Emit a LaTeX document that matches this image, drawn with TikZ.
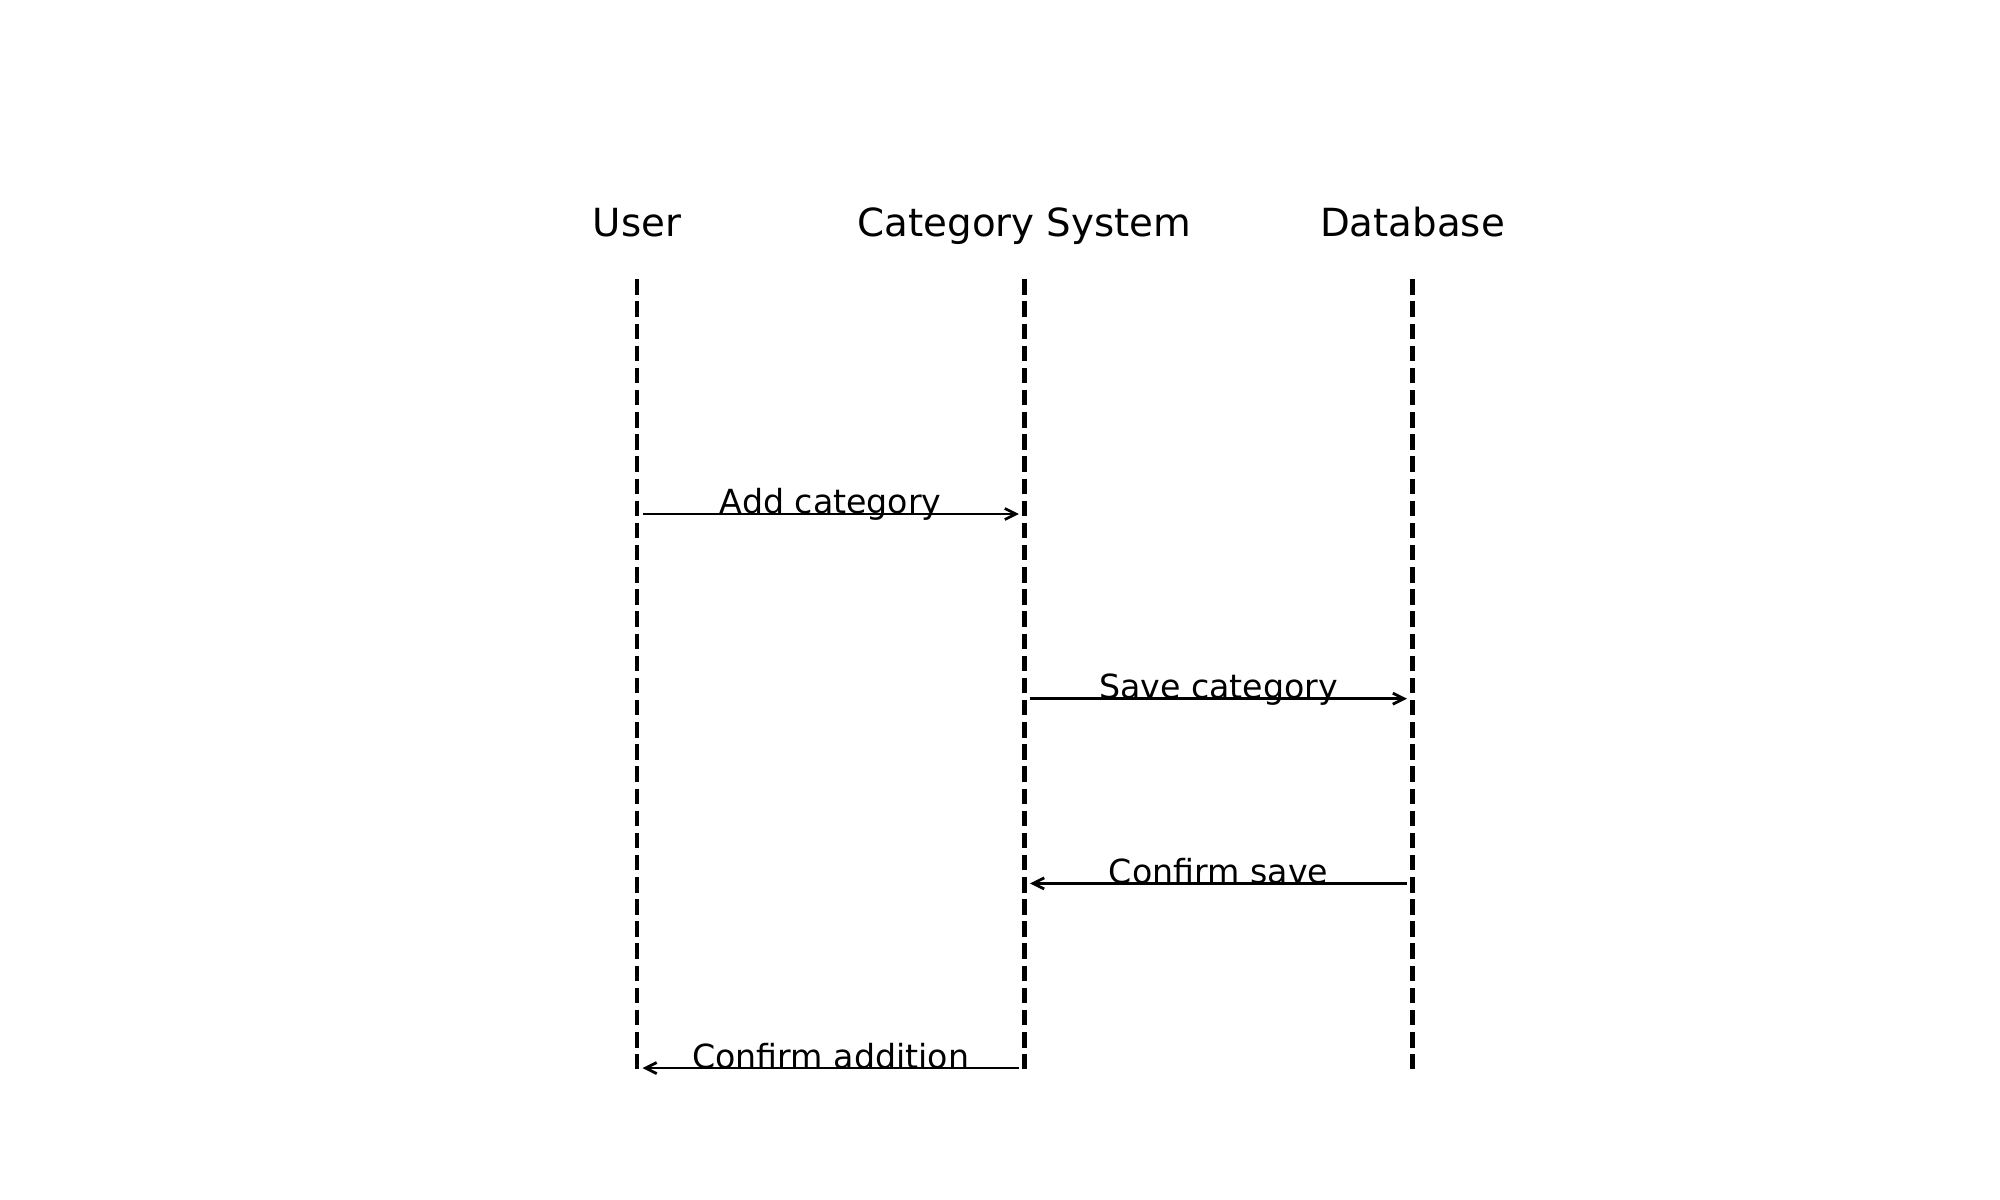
\documentclass[tikz,border=0pt]{standalone}
\usepackage{fontspec}
\setmainfont{DejaVu Sans}
\usetikzlibrary{arrows.meta,calc}
\tikzset{
  lifeline/.style={line width=1.5pt, dash pattern=on 5.6pt off 2.4pt},
  msg/.style={line width=1pt, -{Straight Barb[length=4pt,width=4pt]}},
  actor/.style={anchor=base, inner sep=0pt, font=\fontsize{14pt}{16pt}\selectfont},
  msglabel/.style={anchor=base, inner sep=0pt, font=\fontsize{12pt}{14pt}\selectfont},
}
\begin{document}
\begin{tikzpicture}[x=0.36135pt, y=-0.36135pt]
\useasboundingbox (0,0) rectangle (2000,1200);
% actors
\node[actor] (u) at (637,237) {User};
\node[actor] (c) at (1024.5,237) {Category System};
\node[actor] (d) at (1412.5,237) {Database};
% lifeline ends
\coordinate (ut) at (637,279.3); \coordinate (ub) at (637,1068.5);
\coordinate (ct) at (1024.5,279.3); \coordinate (cb) at (1024.5,1068.5);
\coordinate (dt) at (1412.5,279.3); \coordinate (db) at (1412.5,1068.5);
\draw[lifeline] (ut) -- (ub);
\draw[lifeline] (ct) -- (cb);
\draw[lifeline] (dt) -- (db);
% message points
\coordinate (u1) at (637,514); \coordinate (c1) at (1024.5,514);
\coordinate (c2) at (1024.5,698.7); \coordinate (d2) at (1412.5,698.7);
\coordinate (c3) at (1024.5,883.4); \coordinate (d3) at (1412.5,883.4);
\coordinate (u4) at (637,1068.1); \coordinate (c4) at (1024.5,1068.1);
\draw[msg] ([xshift=2pt]u1) -- ([xshift=-2pt]c1);
\draw[msg] ([xshift=2pt]c2) -- ([xshift=-2pt]d2);
\draw[msg] ([xshift=-2pt]d3) -- ([xshift=2pt]c3);
\draw[msg] ([xshift=-2pt]c4) -- ([xshift=2pt]u4);
\node[msglabel] (l1) at ($(u1)!0.5!(c1)$) {Add category};
\node[msglabel] (l2) at ($(c2)!0.5!(d2)$) {Save category};
\node[msglabel] (l3) at ($(c3)!0.5!(d3)$) {Confirm save};
\node[msglabel] (l4) at ($(u4)!0.5!(c4)$) {Confirm addition};
\end{tikzpicture}
\end{document}
